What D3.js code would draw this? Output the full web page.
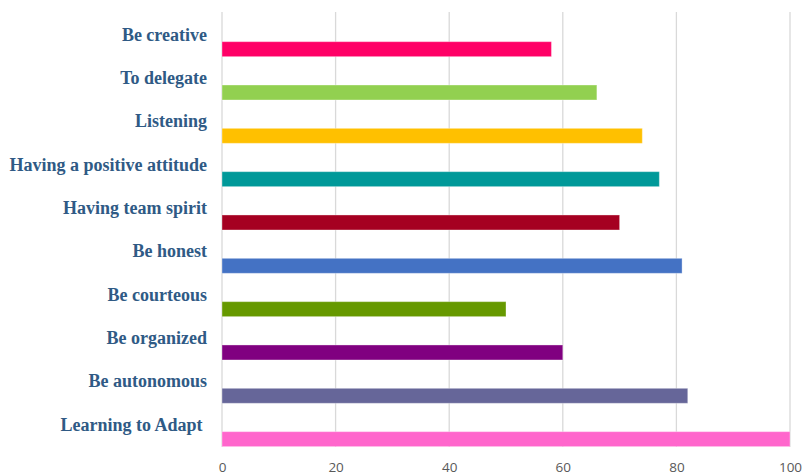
<!DOCTYPE html>
<html>
<head>
<meta charset="utf-8">
<script src="https://cdn.jsdelivr.net/npm/d3@7"></script>
<style>
body { margin: 0; background: #fff; }
.cat-label { font-family: "Liberation Serif", "DejaVu Serif", serif; font-weight: bold; font-size: 18px; fill: #2F5A85; white-space: pre; }
.x-axis text { font-family: "Open Sans", "Liberation Sans", sans-serif; font-size: 13.5px; fill: #595959; }
</style>
</head>
<body>
<div id="chart"></div>
<script>
// skills, top to bottom
var categories = ["Be creative", "To delegate", "Listening", "Having a positive attitude",
    "Having team spirit", "Be honest", "Be courteous", "Be organized", "Be autonomous", "Learning to Adapt "];
var values = [58, 66, 74, 77, 70, 81, 50, 60, 82, 100];
var colors = ["#FF0066", "#92D050", "#FFC000", "#009999", "#A50021",
    "#4472C4", "#669900", "#800080", "#666699", "#FF66CC"];
var ticks = [0, 20, 40, 60, 80, 100];

var width = 803, height = 476;

var svg = d3.select("#chart").append("svg")
    .attr("width", width)
    .attr("height", height);

var x = d3.scaleLinear()
    .domain([0, 100])
    .range([222, 790]);

var y = d3.scaleBand()
    .domain(categories)
    .range([27.5, 460.8]);

var barH = 15;

// gridlines
svg.append("g")
    .selectAll("line")
    .data(ticks)
    .enter()
    .append("line")
    .attr("x1", d => x(d))
    .attr("x2", d => x(d))
    .attr("y1", 12)
    .attr("y2", 447)
    .attr("stroke", "#D9D9D9")
    .attr("stroke-width", 1.3);

// bars
svg.append("g")
    .selectAll("rect")
    .data(values)
    .enter()
    .append("rect")
    .attr("x", x(0))
    .attr("y", (d, i) => y(categories[i]) + y.bandwidth() / 2 - barH / 2)
    .attr("width", d => x(d) - x(0))
    .attr("height", barH)
    .attr("fill", (d, i) => colors[i])
    .attr("stroke", "rgba(255,255,255,0.35)")
    .attr("stroke-width", 1);

// category labels sit above their bars
svg.append("g")
    .selectAll("text")
    .data(categories)
    .enter()
    .append("text")
    .attr("class", "cat-label")
    .attr("x", 207)
    .attr("y", d => y(d) + y.bandwidth() / 2 - barH / 2 - 1)
    .attr("text-anchor", "end")
    .text(d => d);

var xAxis = d3.axisBottom(x)
    .tickValues(ticks)
    .tickSize(0)
    .tickPadding(0);

svg.append("g")
    .attr("class", "x-axis")
    .attr("transform", "translate(0,462)")
    .call(xAxis)
    .call(g => g.select(".domain").remove());
</script>
</body>
</html>
